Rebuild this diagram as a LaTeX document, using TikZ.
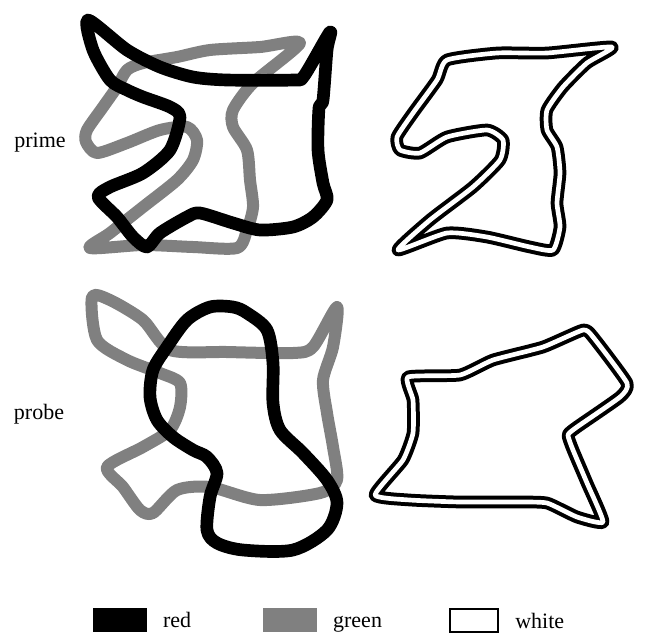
\documentclass[tikz,border=0pt]{standalone}
\usepackage{fontspec}
\setmainfont{Liberation Serif}
\usetikzlibrary{positioning}

\begin{document}
\begin{tikzpicture}[
  x=0.75pt, y=-0.75pt,
  lbl/.style={font=\fontsize{16.5}{19}\selectfont, inner sep=0pt, anchor=base},
  redline/.style={draw=black, line width=9.5pt, line join=round, line cap=round},
  greenline/.style={draw=black!50, line width=9pt, line join=round, line cap=round},
  whiteline/.style={draw=black, line width=3pt, double=white, double distance=3.5pt, line join=round},
  keybox/.style={minimum width=40pt, minimum height=17.5pt, inner sep=0pt, anchor=north west}
]
\useasboundingbox (0,0) rectangle (645,633);

% labels of the rows
\node[lbl] (lblprime) at (40,147) {prime};
\node[lbl] (lblprobe) at (39,419) {probe};

% prime: green under red
\draw[greenline] plot[smooth cycle, tension=0.45] coordinates {
  (300,43) (260,47) (210,50) (177,57) (143,63) (127,70) (117,87) (103,107)
  (87,130) (86,142) (97,153) (127,143) (160,130) (187,127) (197,140) (193,160)
  (177,180) (143,207) (110,233) (90,248) (143,245) (193,247) (237,248) (247,230)
  (253,207) (250,180) (247,150) (233,127) (233,110) (253,83)};
\draw[redline] plot[smooth cycle, tension=0.45] coordinates {
  (88,20) (127,50) (160,67) (193,77) (227,80) (293,80) (304,76) (330,32)
  (327,50) (323,100) (319,108) (318,150) (323,183) (327,200) (313,217) (293,227)
  (260,230) (233,223) (200,213) (187,217) (160,233) (147,247) (133,237) (117,217)
  (98,197) (110,187) (143,173) (170,150) (180,117) (170,107) (143,97) (127,90)
  (110,80) (93,50)};

% prime: white
\draw[whiteline] plot[smooth cycle, tension=0.35] coordinates {
  (447,60) (497,53) (547,53) (612,47) (587,63) (563,87) (547,110) (547,130)
  (557,147) (560,173) (557,203) (560,227) (553,250) (530,247) (487,237) (447,233)
  (398,250) (430,220) (473,187) (500,160) (503,140) (487,130) (447,137) (420,153)
  (400,150) (397,137) (413,113) (437,80)};

% probe: green under red
\draw[greenline] plot[smooth cycle, tension=0.45] coordinates {
  (170,350) (227,352) (293,353) (313,347) (337,307) (333,347) (323,380) (327,413)
  (333,447) (337,480) (320,493) (260,500) (210,487) (177,490) (153,513) (140,510)
  (123,487) (107,467) (143,447) (170,430) (180,407) (180,383) (160,373) (127,360)
  (97,340) (92,297) (110,300) (143,320)};
\draw[redline] plot[smooth cycle, tension=0.5] coordinates {
  (233,307) (210,307) (187,320) (167,347) (153,370) (150,397) (157,420) (173,437)
  (193,450) (207,457) (217,473) (210,497) (207,530) (217,543) (243,550) (293,550)
  (327,530) (337,503) (327,480) (303,453) (280,430) (273,403) (273,363) (267,330)
  (247,313)};

% probe: white
\draw[whiteline] plot[smooth cycle, tension=0.3] coordinates {
  (408,377) (460,375) (493,360) (543,347) (583,330) (593,337) (627,383) (620,397)
  (577,427) (568,435) (573,450) (587,483) (603,522) (577,517) (547,503) (517,502)
  (460,502) (410,500) (375,495) (403,460) (413,433) (413,400)};

% legend
\node[keybox, fill=black] (keyred) at (93,608) {};
\node[lbl, right=12pt of keyred.south east, yshift=3.5pt, anchor=base west] (txtred) {red};
\node[keybox, fill=black!50] (keygreen) at (263,608) {};
\node[lbl, right=12pt of keygreen.south east, yshift=3.5pt, anchor=base west] (txtgreen) {green};
\node[keybox, minimum width=36pt, draw=black, line width=1.5pt, fill=white] (keywhite) at (449,608) {};
\node[lbl, right=12pt of keywhite.south east, yshift=3.5pt, anchor=base west] (txtwhite) {white};
\end{tikzpicture}
\end{document}
